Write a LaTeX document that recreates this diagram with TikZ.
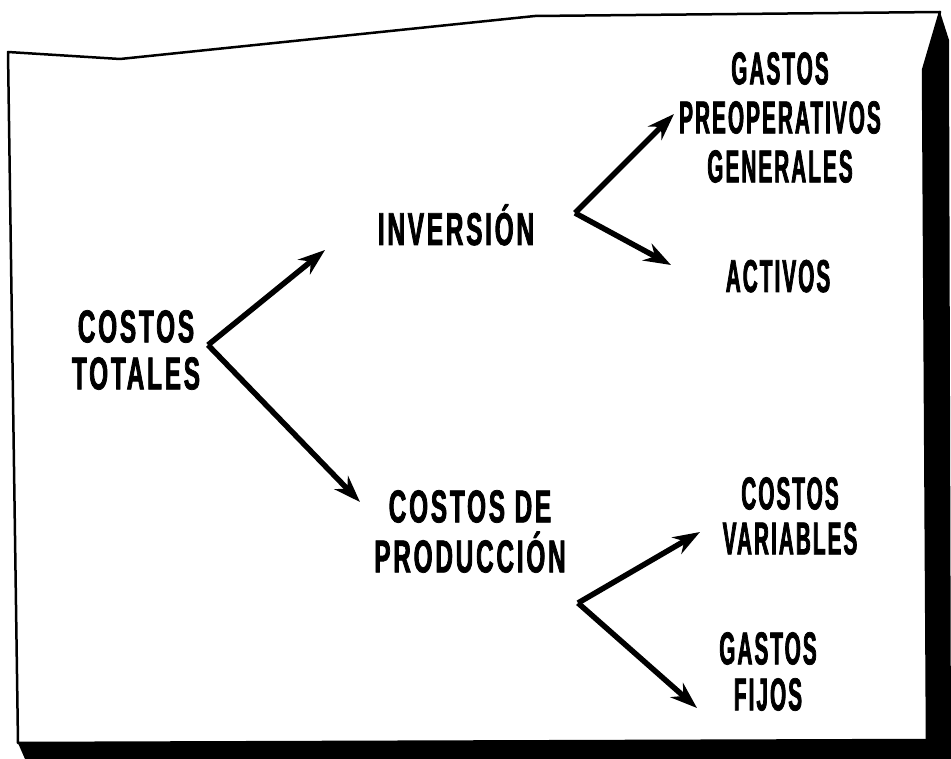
\documentclass[tikz,border=0pt]{standalone}
\usepackage{fontspec}
\usetikzlibrary{arrows.meta}
\newfontfamily\handw[FakeStretch=0.53,LetterSpace=6,FakeBold=1.6]{Liberation Sans Bold}
\newfontfamily\handn[FakeStretch=0.45,LetterSpace=4.5,FakeBold=1.6]{Liberation Sans Bold}
\begin{document}
\begin{tikzpicture}[x=1pt,y=-1pt,
  lw/.style={font=\handw\fontsize{46}{#1}\selectfont,inner sep=0pt,align=center},
  ln/.style={font=\handn\fontsize{46}{#1}\selectfont,inner sep=0pt,align=center},
  arr/.style={line width=5.5pt,-{Stealth[length=27pt,width=19pt]}}]
\useasboundingbox (0,0) rectangle (951,759);
% shadow and frame
\fill[black] (940,12) -- (949,40) -- (951,759) -- (25,759) -- (18,743) -- (927,740) -- (923,70) -- cycle;
\draw[line width=2.5pt,fill=white,line join=round] (8,52) -- (120,59) -- (535,16) -- (940,12) -- (923,70) -- (927,740) -- (18,743) -- cycle;
% texts
\node[lw=47,anchor=north] (tot) at (136,310) {COSTOS\\TOTALES};
\node[lw=50,anchor=base] (inv) at (456,245) {INVERSIÓN};
\node[ln=49,anchor=north] (gpg) at (780,52) {GASTOS\\PREOPERATIVOS\\GENERALES};
\node[ln=50,anchor=base] (act) at (778,292) {ACTIVOS};
\node[lw=50,anchor=north] (cdp) at (470,490) {COSTOS DE\\PRODUCCIÓN};
\node[ln=45,anchor=north] (cv) at (790,477) {COSTOS\\VARIABLES};
\node[ln=46,anchor=north] (gf) at (768,632) {GASTOS\\FIJOS};
% arrow geometry
\coordinate (va) at (208,345);
\coordinate (vb) at (575,213);
\coordinate (vc) at (578,603);
\coordinate (tinv) at (325,250);
\coordinate (tcdp) at (360,502);
\coordinate (tgpg) at (674,114);
\coordinate (tact) at (671,265);
\coordinate (tcv) at (700,532);
\coordinate (tgf) at (697,708);
\draw[arr] (va) -- (tinv);
\draw[arr] (va) -- (tcdp);
\draw[arr] (vb) -- (tgpg);
\draw[arr] (vb) -- (tact);
\draw[arr] (vc) -- (tcv);
\draw[arr] (vc) -- (tgf);
\end{tikzpicture}
\end{document}
